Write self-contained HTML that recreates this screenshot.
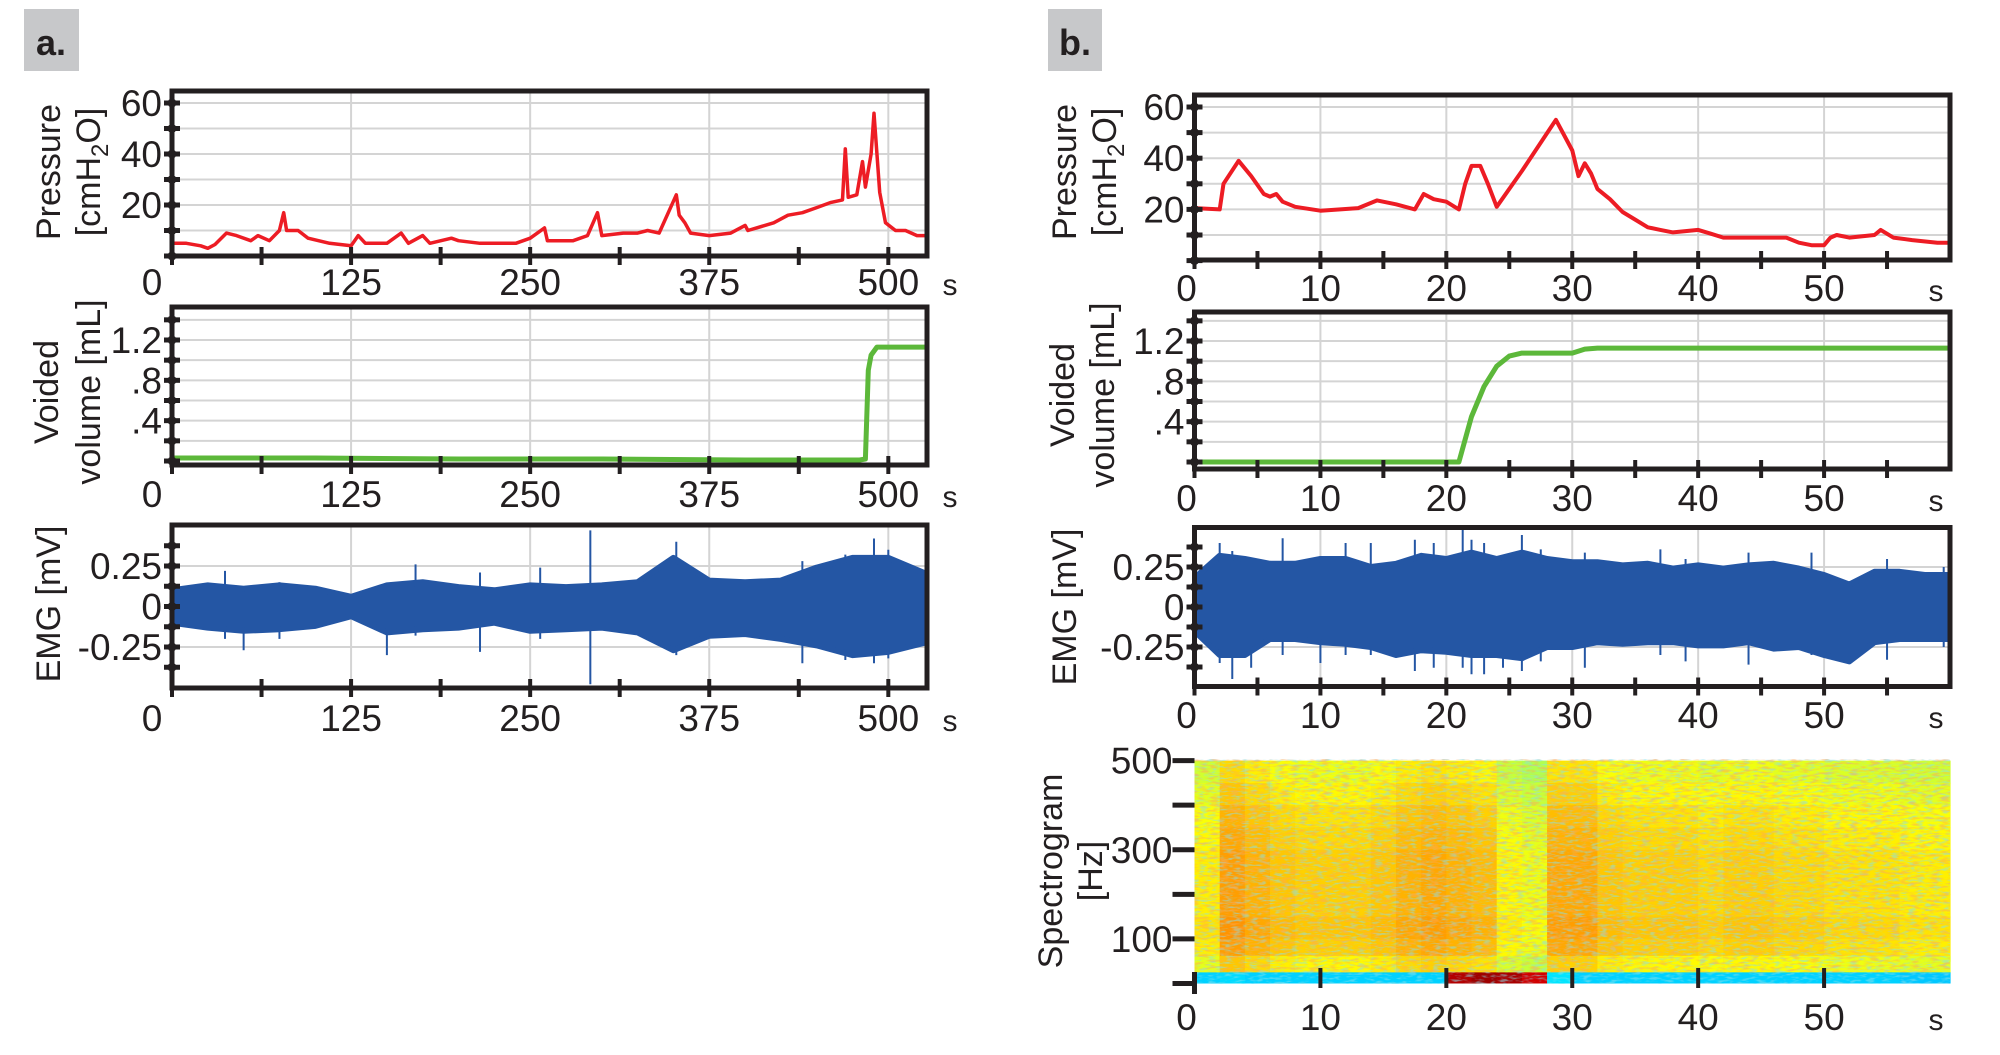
<!DOCTYPE html>
<html><head><meta charset="utf-8">
<style>
html,body{margin:0;padding:0;background:#fff;}
svg{display:block;font-family:"Liberation Sans",sans-serif;}
</style></head>
<body>
<svg id="fig" width="2000" height="1055" viewBox="0 0 2000 1055" xmlns="http://www.w3.org/2000/svg">
<defs>
<filter id="speck" x="0" y="0" width="100%" height="100%">
<feTurbulence type="fractalNoise" baseFrequency="0.12 0.45" numOctaves="2" seed="4"/>
<feColorMatrix type="matrix" values="0 0 0 0 0.25  0 0 0 0 0.75  0 0 0 0 0.85  0 0 0 4 -1.9"/>
</filter>
<filter id="speck2" x="0" y="0" width="100%" height="100%">
<feTurbulence type="fractalNoise" baseFrequency="0.1 0.4" numOctaves="2" seed="11"/>
<feColorMatrix type="matrix" values="0 0 0 0 0.98  0 0 0 0 0.4  0 0 0 0 0.1  0 0 0 4 -1.9"/>
</filter>
</defs>
<rect x="24" y="9" width="55" height="62" fill="#c7c8ca"/>
<text x="51" y="55" font-size="36" font-weight="bold" text-anchor="middle" fill="#231f20">a.</text>
<rect x="1048" y="9" width="54" height="62" fill="#c7c8ca"/>
<text x="1075" y="55" font-size="36" font-weight="bold" text-anchor="middle" fill="#231f20">b.</text>
<g id="root"></g>
</svg>
<script>
// ---------- DATA ----------
const pressA_t = [0,10,20,25,30,38,45,55,60,68,75,78,80,88,95,110,125,130,135,150,160,165,175,180,195,200,215,240,250,260,262,280,290,297,300,315,325,332,340,352,354,358,362,375,390,400,402,420,430,440,450,460,468,470,472,478,482,484,488,490,494,498,505,512,520,527];
const pressA_v = [5,5,4,3,4.5,9,8,6,8,6,10,17,10,10,7,5,4,8,5,5,9,5,8,5,7,6,5,5,7,11,6,6,8,17,8,9,9,10,9,24,16,13,9,8,9,12,10,13,16,17,19,21,22,42,23,24,37,27,40,56,25,13,10,10,8,8];
const volA_t = [0,100,200,300,400,480,484,486,488,492,500,527];
const volA_v = [0.03,0.03,0.02,0.02,0.01,0.01,0.02,0.9,1.05,1.13,1.13,1.13];
const emgA_t = [0,25,50,75,100,125,150,175,200,225,250,275,300,325,350,375,400,425,450,475,500,527];
const emgA_up = [0.1,0.13,0.11,0.13,0.11,0.06,0.13,0.15,0.12,0.1,0.13,0.12,0.13,0.15,0.3,0.16,0.15,0.16,0.24,0.3,0.3,0.2];
const emgA_lo = [-0.1,-0.13,-0.15,-0.14,-0.12,-0.06,-0.16,-0.14,-0.13,-0.1,-0.15,-0.14,-0.13,-0.16,-0.27,-0.18,-0.17,-0.2,-0.24,-0.3,-0.28,-0.22];
const emgA_spk_t = [37,50,75,150,170,215,257,292,352,440,470,490,500];
const emgA_spk_hi = [0.22,0.1,0.15,0.1,0.26,0.21,0.24,0.47,0.4,0.28,0.32,0.42,0.35];
const emgA_spk_lo = [-0.2,-0.27,-0.2,-0.3,-0.18,-0.28,-0.2,-0.48,-0.3,-0.35,-0.33,-0.35,-0.32];

const pressB_t = [0,2,2.3,3.5,4.5,5.5,6,6.5,7,8,10,13,14.5,16,17.5,18.2,19,20,21,21.5,22,22.7,23.3,24,26,28.7,30,30.5,31,31.5,32,33,34,35,36,37,38,40,41,42,45,47,48,49,50,50.5,51,52,54,54.5,55.5,57,59,60];
const pressB_v = [20.5,20,30,39,33,26,25,26,23,21,19.5,20.5,23.5,22,20,26,24,23,20,30,37,37,30,21,35,55,43,33,38,34,28,24,19,16,13,12,11,12,10.5,9,9,9,7,6,6,9,10,9,10,12,9,8,7,7];
const volB_t = [0,21,22,23,24,25,26,30,31,32,60];
const volB_v = [0.0,0.0,0.45,0.75,0.95,1.05,1.08,1.08,1.12,1.13,1.13];
const emgB_t = [0,2,4,6,8,10,12,14,16,18,20,22,24,26,28,30,32,34,36,38,40,42,44,46,48,50,52,54,56,58,60];
const emgB_up = [0.18,0.32,0.3,0.27,0.27,0.3,0.3,0.25,0.27,0.32,0.3,0.34,0.3,0.34,0.3,0.28,0.28,0.26,0.27,0.24,0.26,0.24,0.26,0.27,0.24,0.2,0.14,0.22,0.22,0.2,0.2];
const emgB_lo = [-0.15,-0.3,-0.3,-0.2,-0.2,-0.22,-0.23,-0.25,-0.3,-0.27,-0.28,-0.3,-0.3,-0.32,-0.25,-0.25,-0.22,-0.23,-0.22,-0.22,-0.24,-0.24,-0.22,-0.26,-0.25,-0.3,-0.34,-0.22,-0.2,-0.2,-0.2];
const emgB_spk_t = [2,3,4.5,7,10,12,14,17.5,19,21.3,22,23,24.5,26,27.5,31,37,39,44,49,55,59.5];
const emgB_spk_hi = [0.4,0.35,0.3,0.43,0.3,0.4,0.4,0.42,0.4,0.5,0.42,0.4,0.3,0.45,0.36,0.34,0.36,0.3,0.34,0.34,0.3,0.25];
const emgB_spk_lo = [-0.35,-0.45,-0.38,-0.3,-0.35,-0.3,-0.3,-0.4,-0.38,-0.38,-0.42,-0.42,-0.38,-0.4,-0.34,-0.38,-0.3,-0.34,-0.36,-0.3,-0.33,-0.25];

const specCols_t = [0,2,4,6,8,10,12,14,16,18,20,22,24,26,28,30,32,34,36,38,40,42,44,46,48,50,52,54,56,58];
const specCols_v = [0.63,0.71,0.69,0.67,0.66,0.66,0.66,0.67,0.69,0.7,0.69,0.68,0.62,0.6,0.7,0.7,0.67,0.66,0.66,0.66,0.65,0.66,0.66,0.65,0.65,0.64,0.64,0.64,0.63,0.63];
const specRows_f = [475,425,375,325,275,225,175,125,75,37];
const specRows_v = [-0.05,-0.03,-0.01,0,0.01,0.01,0.01,0.02,0.01,-0.03];
const specBand_v = [0.33,0.34,0.33,0.33,0.33,0.33,0.33,0.33,0.33,0.33,0.95,0.97,0.96,0.92,0.35,0.33,0.33,0.33,0.33,0.33,0.33,0.33,0.33,0.33,0.33,0.33,0.33,0.33,0.32,0.32];

// ---------- HELPERS ----------
const NS='http://www.w3.org/2000/svg';
const root=document.getElementById('root');
function mk(tag,attrs,parent){const e=document.createElementNS(NS,tag);for(const k in attrs)e.setAttribute(k,attrs[k]);(parent||root).appendChild(e);return e;}
function lin(d0,d1,r0,r1){return v=>r0+(v-d0)/(d1-d0)*(r1-r0);}

function axesFrame(g,P){
  P.xGrid.forEach(t=>{const l=mk('line',{x1:P.sx(t),x2:P.sx(t),y1:P.top,y2:P.bot,stroke:'#d4d4d4','stroke-width':2},g);
    
    });
  P.yGrid.forEach(v=>{const l=mk('line',{x1:P.left,x2:P.right,y1:P.sy(v),y2:P.sy(v),stroke:'#d4d4d4','stroke-width':2},g);
    
    });
}
function axesDecor(g,P){
  if(P.frame){
    const f=mk('rect',{x:P.left,y:P.top,width:P.right-P.left,height:P.bot-P.top,fill:'none',stroke:'#231f20','stroke-width':5},g);
    
    
  }
  P.yTicks.forEach(v=>{const y=P.sy(v);
    const t=mk('line',{x1:P.left-(P.frame?8:22),x2:P.left+(P.frame?8:0),y1:y,y2:y,stroke:'#231f20','stroke-width':5},g);
    
    
    if(P.frame){const c=mk('circle',{cx:P.left,cy:y,r:4.5,fill:'#231f20'},g);
      
      }
  });
  P.yLabels.forEach((v,i)=>{const tx=mk('text',{x:P.left-(P.frame?10:22),y:P.sy(v)+13,'font-size':37,'text-anchor':'end',fill:'#231f20'},g);
    tx.textContent=P.yLabelText[i];
    
    });
  P.xTicks.forEach(t=>{const x=P.sx(t);
    const l=mk('line',{x1:x,x2:x,y1:P.bot-(P.spec?16:9),y2:P.bot+(P.spec?4:9),stroke:'#231f20','stroke-width':4},g);
    
    });
  if(P.spec){const l=mk('line',{x1:P.left,x2:P.left,y1:P.bot-12,y2:P.bot+10,stroke:'#231f20','stroke-width':5},g);
    
    }
  P.xLabels.forEach((t,i)=>{const x=(t===0)?P.sx(0)+P.zeroOff:P.sx(t);
    const tx=mk('text',{x:x,y:P.lblY,'font-size':37,'text-anchor':'middle',fill:'#231f20'},g);
    tx.textContent=P.xLabelText[i];
    
    });
  const s=mk('text',{x:P.sLabX,y:P.lblY,'font-size':30,'text-anchor':'middle',fill:'#231f20'},g);
  s.textContent='s';
  
  
  P.title.forEach((line,i)=>{
    const tx=mk('text',{x:0,y:0,'font-size':34,'text-anchor':'middle',fill:'#231f20',transform:`translate(${line.x},${P.titleY}) rotate(-90)`},g);
    if(line.sub){tx.appendChild(document.createTextNode(line.txt));
      const ts=mk('tspan',{'font-size':24,dy:8},tx);ts.textContent=line.sub;
      const ts2=mk('tspan',{dy:-8},tx);ts2.textContent=line.after;}
    else tx.textContent=line.txt;
    
    
  });
}
function linePath(P,ts,vs){return ts.map((t,i)=>(i?'L':'M')+P.sx(t).toFixed(1)+','+P.sy(vs[i]).toFixed(1)).join('');}
function emg(g,P,ts,up,lo,st,sh,sl){
  const cp=g.appendChild(document.createElementNS(NS,'clipPath'));cp.id='c'+P.id;
  mk('rect',{x:P.left,y:P.top,width:P.right-P.left,height:P.bot-P.top},cp);
  const gg=mk('g',{'clip-path':`url(#c${P.id})`},g);
  let d='';
  ts.forEach((t,i)=>{d+=(i?'L':'M')+P.sx(t).toFixed(1)+','+P.sy(up[i]).toFixed(1);});
  for(let i=ts.length-1;i>=0;i--){d+='L'+P.sx(ts[i]).toFixed(1)+','+P.sy(lo[i]).toFixed(1);}
  const band=mk('path',{d:d+'Z',fill:'#2456a4',stroke:'#2456a4','stroke-width':6,'stroke-linejoin':'round'},gg);
  
  
  st.forEach((t,i)=>{const l=mk('line',{x1:P.sx(t),x2:P.sx(t),y1:P.sy(sh[i]),y2:P.sy(sl[i]),stroke:'#2456a4','stroke-width':2},gg);
    
    });
}
function jet(v){v=Math.max(0,Math.min(1,v));
  const r=Math.max(0,Math.min(1,1.5-Math.abs(4*v-3))),gC=Math.max(0,Math.min(1,1.5-Math.abs(4*v-2))),b=Math.max(0,Math.min(1,1.5-Math.abs(4*v-1)));
  return `rgb(${Math.round(r*255)},${Math.round(gC*255)},${Math.round(b*255)})`;}

// ---------- PANEL A ----------
const axA={left:172,right:927,sx:lin(0,527,172,927),xTicks:[0,62.5,125,187.5,250,312.5,375,437.5,500],xGrid:[125,250,375,500],xLabels:[0,125,250,375,500],xLabelText:['0','125','250','375','500'],sLabX:950,zeroOff:-20};
function mkP(base,extra){return Object.assign({},base,extra);}
const pA=mkP(axA,{id:'pA',top:91,bot:256,sy:lin(0,60,256,103),yTicks:[0,10,20,30,40,50,60],yGrid:[10,20,30,40,50,60],yLabels:[20,40,60],yLabelText:['20','40','60'],frame:true,lblY:295,titleY:172,title:[{x:60,txt:'Pressure'},{x:100,txt:'[cmH',sub:'2',after:'O]'}]});
const vA=mkP(axA,{id:'vA',top:307,bot:465,sy:lin(0,1.2,461,340),yTicks:[0,0.2,0.4,0.6,0.8,1.0,1.2,1.4],yGrid:[0.2,0.4,0.6,0.8,1.0,1.2,1.4],yLabels:[0.4,0.8,1.2],yLabelText:['.4','.8','1.2'],frame:true,lblY:507,titleY:392,title:[{x:58,txt:'Voided'},{x:100,txt:'volume [mL]'}]});
const eA=mkP(axA,{id:'eA',top:525,bot:688,sy:lin(0,0.25,606.5,566),yTicks:[-0.375,-0.25,-0.125,0,0.125,0.25,0.375],yGrid:[-0.25,0.25],yLabels:[0.25,0,-0.25],yLabelText:['0.25','0','-0.25'],frame:true,lblY:731,titleY:604,title:[{x:60,txt:'EMG [mV]'}]});

// ---------- PANEL B ----------
const axB={left:1194.5,right:1950,sx:lin(0,60,1194.5,1950),xTicks:[0,5,10,15,20,25,30,35,40,45,50,55],xGrid:[10,20,30,40,50],xLabels:[0,10,20,30,40,50],xLabelText:['0','10','20','30','40','50'],sLabX:1936,zeroOff:-8};
const pB=mkP(axB,{id:'pB',top:95,bot:260,sy:lin(0,60,260.6,107),yTicks:[0,10,20,30,40,50,60],yGrid:[10,20,30,40,50,60],yLabels:[20,40,60],yLabelText:['20','40','60'],frame:true,lblY:301,titleY:172,title:[{x:1076,txt:'Pressure'},{x:1116,txt:'[cmH',sub:'2',after:'O]'}]});
const vB=mkP(axB,{id:'vB',top:312,bot:469,sy:lin(0,1.2,462,341),yTicks:[0,0.2,0.4,0.6,0.8,1.0,1.2,1.4],yGrid:[0.2,0.4,0.6,0.8,1.0,1.2,1.4],yLabels:[0.4,0.8,1.2],yLabelText:['.4','.8','1.2'],frame:true,lblY:511,titleY:395,title:[{x:1074,txt:'Voided'},{x:1114,txt:'volume [mL]'}]});
const eB=mkP(axB,{id:'eB',top:527.5,bot:686.5,sy:lin(0,0.25,607,567),yTicks:[-0.375,-0.25,-0.125,0,0.125,0.25,0.375],yGrid:[-0.25,0.25],yLabels:[0.25,0,-0.25],yLabelText:['0.25','0','-0.25'],frame:true,lblY:728,titleY:607,title:[{x:1076,txt:'EMG [mV]'}]});
const sB=mkP(axB,{id:'sB',top:759,bot:984,sy:lin(0,500,983.5,760.6),yTicks:[0,100,200,300,400,500],yGrid:[],yLabels:[100,300,500],yLabelText:['100','300','500'],frame:false,spec:true,lblY:1030,titleY:871,xTicks:[10,20,30,40,50],title:[{x:1062,txt:'Spectrogram'},{x:1102,txt:'[Hz]'}]});

function panel(P,name){const g=mk('g',{});return g;}

let g=panel(pA,'panel-a-pressure-chart');axesFrame(g,pA);
let pl=mk('path',{d:linePath(pA,pressA_t,pressA_v),fill:'none',stroke:'#ed1c24','stroke-width':3.5,'stroke-linejoin':'round'},g);

axesDecor(g,pA);
g=panel(vA,'panel-a-volume-chart');axesFrame(g,vA);
pl=mk('path',{d:linePath(vA,volA_t,volA_v),fill:'none',stroke:'#5cb83a','stroke-width':5,'stroke-linejoin':'round'},g);

axesDecor(g,vA);
g=panel(eA,'panel-a-emg-chart');axesFrame(g,eA);
emg(g,eA,emgA_t,emgA_up,emgA_lo,emgA_spk_t,emgA_spk_hi,emgA_spk_lo);
axesDecor(g,eA);
g=panel(pB,'panel-b-pressure-chart');axesFrame(g,pB);
pl=mk('path',{d:linePath(pB,pressB_t,pressB_v),fill:'none',stroke:'#ed1c24','stroke-width':4,'stroke-linejoin':'round'},g);

axesDecor(g,pB);
g=panel(vB,'panel-b-volume-chart');axesFrame(g,vB);
pl=mk('path',{d:linePath(vB,volB_t,volB_v),fill:'none',stroke:'#5cb83a','stroke-width':5,'stroke-linejoin':'round'},g);

axesDecor(g,vB);
g=panel(eB,'panel-b-emg-chart');axesFrame(g,eB);
emg(g,eB,emgB_t,emgB_up,emgB_lo,emgB_spk_t,emgB_spk_hi,emgB_spk_lo);
axesDecor(g,eB);
g=panel(sB,'panel-b-spectrogram');
const colW=sB.sx(2)-sB.sx(0);
specCols_t.forEach((t,ci)=>{
  specRows_f.forEach((f,ri)=>{
    const y0=sB.sy(f+25), y1=sB.sy(Math.max(25,f-25));
    const c=mk('rect',{x:sB.sx(t),y:y0,width:colW+0.6,height:y1-y0+0.6,fill:jet(specCols_v[ci]+specRows_v[ri])},g);
    
    
  });
  const yb0=sB.sy(25),yb1=sB.sy(0);
  const b=mk('rect',{x:sB.sx(t),y:yb0,width:colW+0.6,height:yb1-yb0,fill:jet(specBand_v[ci])},g);
  
  
});
let sp=mk('rect',{x:sB.left,y:sB.top,width:sB.right-sB.left,height:sB.bot-sB.top,filter:'url(#speck)',opacity:0.55},g);


sp=mk('rect',{x:sB.left,y:sB.top,width:sB.right-sB.left,height:sB.sy(25)-sB.top,filter:'url(#speck2)',opacity:0.5},g);


axesDecor(g,sB);
</script>
</body></html>
